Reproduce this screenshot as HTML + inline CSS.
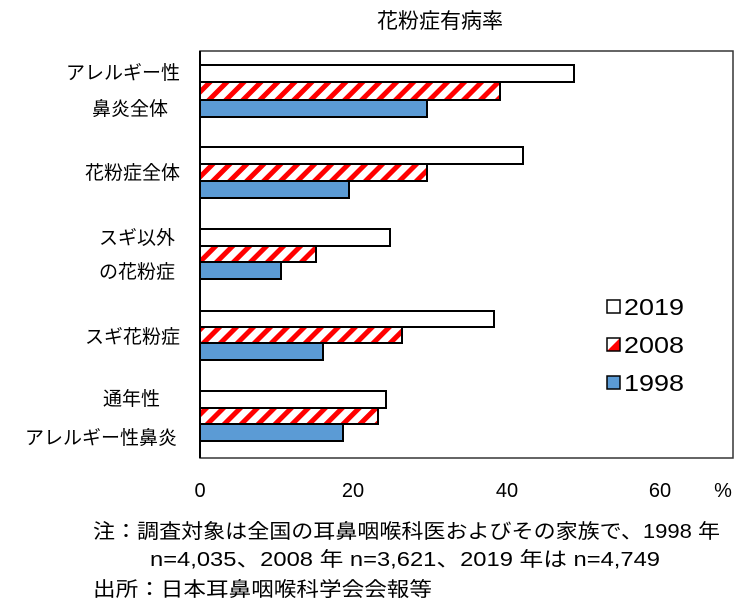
<!DOCTYPE html>
<html><head><meta charset="utf-8"><style>
body{margin:0;background:#fff;width:750px;height:610px;overflow:hidden}
svg{display:block}
text{font-family:"Liberation Sans","Noto Sans CJK JP",sans-serif;fill:#000}
</style></head><body>
<svg width="750" height="610" viewBox="0 0 750 610">
<defs>
<pattern id="h" patternUnits="userSpaceOnUse" width="12" height="12" patternTransform="rotate(45)">
<rect width="12" height="12" fill="#fff"/><rect width="5" height="12" fill="#f00"/>
</pattern>
</defs>
<text x="440" y="28" font-size="21" text-anchor="middle">花粉症有病率</text>
<rect x="200" y="51" width="533" height="407" fill="none" stroke="#333" stroke-width="1.5"/>
<line x1="200" y1="51" x2="200" y2="458" stroke="#000" stroke-width="2"/>
<g stroke="#000" stroke-width="2">
<rect x="200" y="65" width="374" height="17" fill="#fff"/>
<rect x="200" y="82" width="300" height="18" fill="url(#h)"/>
<rect x="200" y="100" width="227" height="17" fill="#5b9bd5"/>
<rect x="200" y="147" width="323" height="17" fill="#fff"/>
<rect x="200" y="164" width="227" height="17" fill="url(#h)"/>
<rect x="200" y="181" width="149" height="17" fill="#5b9bd5"/>
<rect x="200" y="229" width="190" height="17" fill="#fff"/>
<rect x="200" y="246" width="116" height="16" fill="url(#h)"/>
<rect x="200" y="262" width="81" height="17" fill="#5b9bd5"/>
<rect x="200" y="311" width="294" height="16" fill="#fff"/>
<rect x="200" y="327" width="202" height="16" fill="url(#h)"/>
<rect x="200" y="343" width="123" height="17" fill="#5b9bd5"/>
<rect x="200" y="391" width="186" height="17" fill="#fff"/>
<rect x="200" y="408" width="178" height="16" fill="url(#h)"/>
<rect x="200" y="424" width="143" height="17" fill="#5b9bd5"/>
</g>
<g font-size="19" text-anchor="end">
<text x="180" y="79">アレルギー性</text>
<text x="168" y="115">鼻炎全体</text>
<text x="180" y="179">花粉症全体</text>
<text x="175" y="244">スギ以外</text>
<text x="175" y="278">の花粉症</text>
<text x="180" y="343">スギ花粉症</text>
<text x="160" y="405">通年性</text>
<text x="177" y="444">アレルギー性鼻炎</text>
</g>
<g font-size="20" text-anchor="middle">
<text x="200" y="497">0</text><text x="353" y="497">20</text><text x="507" y="497">40</text><text x="660" y="497">60</text>
<text x="723" y="497">%</text>
</g>
<g stroke="#000" stroke-width="1.5">
<rect x="607" y="300" width="13" height="13" fill="#fff"/>
<polygon points="607,351 620,338 620,351" fill="#f00" stroke="none"/>
<rect x="607" y="338" width="13" height="13" fill="none"/>
<rect x="607" y="376" width="13" height="13" fill="#5b9bd5"/>
</g>
<g font-size="23">
<text x="624" y="315" textLength="60" lengthAdjust="spacingAndGlyphs">2019</text><text x="624" y="353" textLength="60" lengthAdjust="spacingAndGlyphs">2008</text><text x="624" y="391" textLength="60" lengthAdjust="spacingAndGlyphs">1998</text>
</g>
<g font-size="20">
<text x="93" y="538" textLength="627" lengthAdjust="spacingAndGlyphs">注：調査対象は全国の耳鼻咽喉科医およびその家族で、1998 年</text>
<text x="150" y="566" textLength="510" lengthAdjust="spacingAndGlyphs">n=4,035、2008 年 n=3,621、2019 年は n=4,749</text>
<text x="93" y="596" textLength="339" lengthAdjust="spacingAndGlyphs">出所：日本耳鼻咽喉科学会会報等</text>
</g>
</svg>
</body></html>
